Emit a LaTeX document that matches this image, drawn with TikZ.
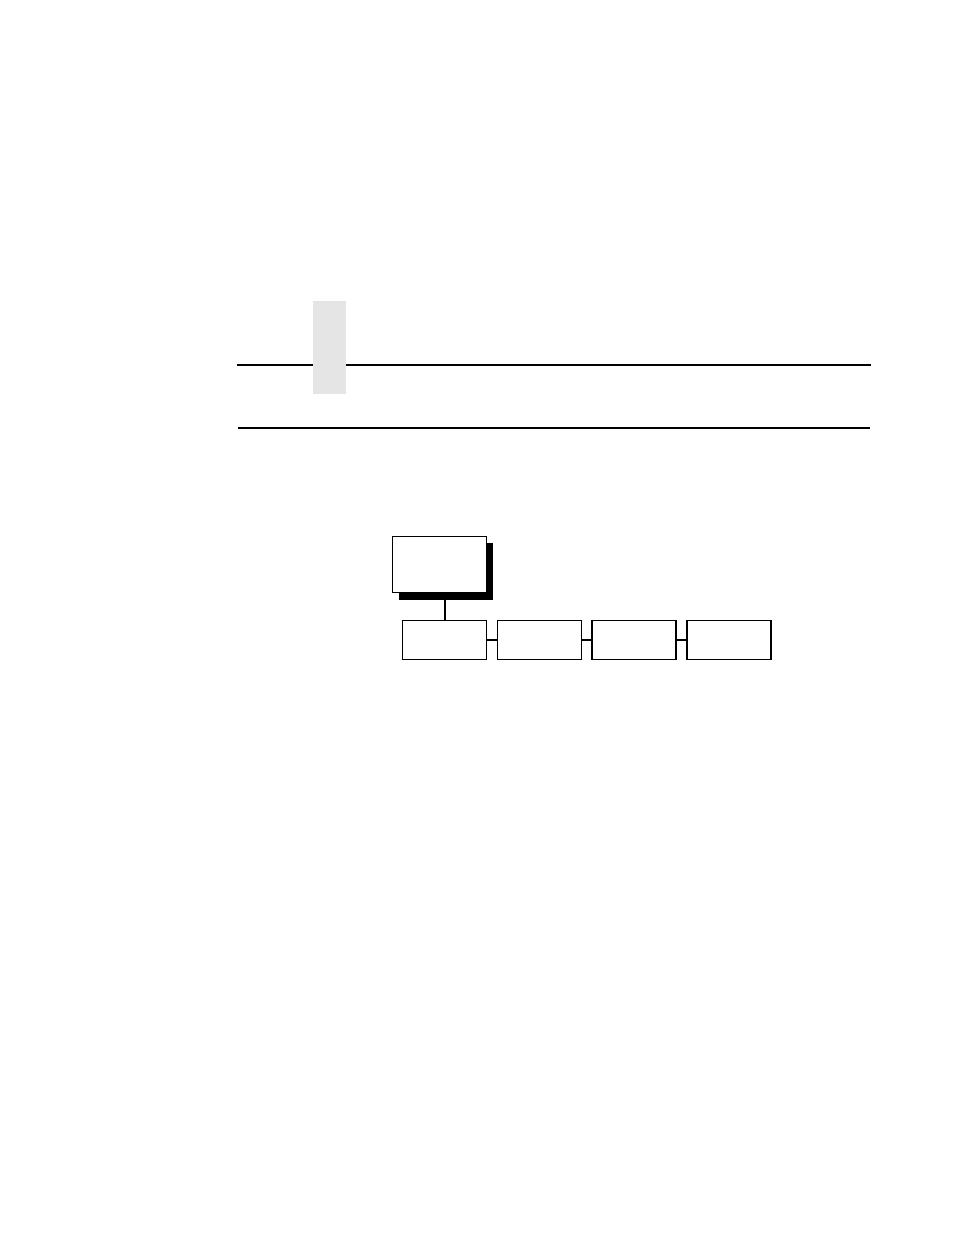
\documentclass[tikz,border=0pt]{standalone}
\usepackage{tikz}

\tikzset{
    menubox/.style={draw, fill=white, line width=1.1pt, minimum width=84pt, minimum height=39pt, inner sep=0pt, outer sep=0pt},
    topbox/.style={draw, fill=white, line width=1.1pt, minimum width=94pt, minimum height=56pt, inner sep=0pt, outer sep=0pt}
}

\begin{document}
\begin{tikzpicture}[x=1pt, y=-1pt]
    \useasboundingbox (0,0) rectangle (954,1235);
    % header tab and rules
    \fill[gray!20] (313,301) rectangle (346,394);
    \draw[line width=2.4pt] (237,365) -- (313,365);
    \draw[line width=2.4pt] (346,365) -- (871,365);
    \draw[line width=1.2pt] (238,428) -- (870,428);
    % menu tree
    \fill[black] (399,543) rectangle (493,600);
    \node[topbox] (top) at (439.5,564.5) {};
    \node[menubox] (opt1) at (444.5,640) {};
    \node[menubox] (opt2) at (539.5,640) {};
    \node[menubox] (opt3) at (634,640) {};
    \node[menubox] (opt4) at (729,640) {};
    \draw[line width=1.1pt] (445,600) -- (opt1.north -| 445,0);
    \draw[line width=1.1pt] (opt1.east) -- (opt2.west);
    \draw[line width=1.1pt] (opt2.east) -- (opt3.west);
    \draw[line width=1.1pt] (opt3.east) -- (opt4.west);
\end{tikzpicture}
\end{document}
